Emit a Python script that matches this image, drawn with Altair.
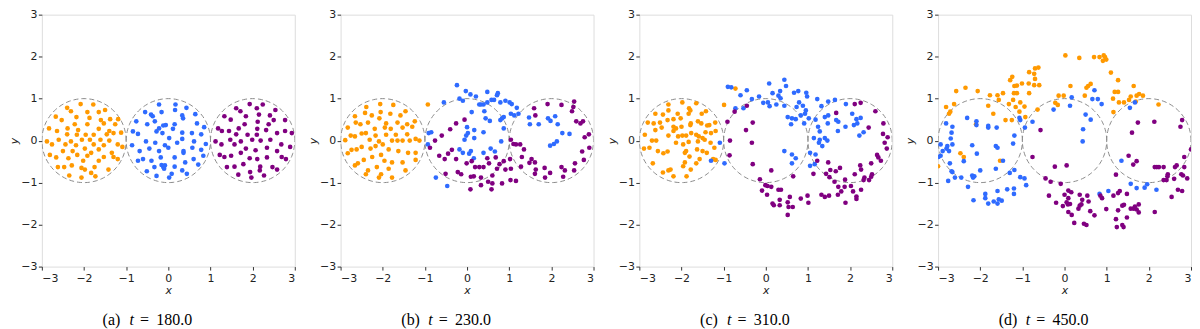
import altair as alt
import pandas as pd
import numpy as np

# ---------------- data ----------------
LABELS = ["(a)", "(b)", "(c)", "(d)"]
TIMES = ["180.0", "230.0", "310.0", "450.0"]
CENTERS = [-2, 0, 2]
RADIUS = 1
TICKS = [-3, -2, -1, 0, 1, 2, 3]
COLOR_NAMES = ["orange", "blue", "purple"]
COLOR_VALUES = ["#FF9900", "#2F6BFF", "#800080"]

A_ORANGE = [(-2.08,0.87),(-1.78,0.86),(-2.40,0.78),(-1.50,0.73),(-2.31,0.70),(-1.92,0.68),(-1.65,0.68),
 (-2.67,0.57),(-2.18,0.56),(-1.87,0.54),(-1.60,0.49),(-1.38,0.51),(-2.53,0.49),(-1.19,0.51),(-2.22,0.39),
 (-1.92,0.39),(-1.53,0.41),(-1.26,0.39),(-2.83,0.29),(-2.64,0.23),(-2.39,0.29),(-2.14,0.25),(-1.65,0.28),
 (-1.40,0.23),(-1.12,0.19),(-2.40,0.15),(-2.17,0.14),(-1.96,0.14),(-1.77,0.14),(-1.46,0.15),(-1.30,0.18),
 (-2.88,-0.02),(-2.60,0.02),(-2.05,0.02),(-1.86,0.02),(-1.61,0.02),(-1.40,0.00),(-2.31,-0.02),(-2.76,-0.09),
 (-2.44,-0.09),(-2.19,-0.11),(-1.77,-0.09),(-1.53,-0.11),(-1.20,-0.09),(-1.09,-0.15),(-1.98,-0.19),
 (-1.65,-0.21),(-2.50,-0.25),(-2.27,-0.25),(-1.83,-0.29),(-1.34,-0.29),(-2.81,-0.34),(-2.66,-0.40),
 (-2.16,-0.34),(-1.92,-0.36),(-1.53,-0.39),(-1.30,-0.39),(-1.20,-0.44),(-2.37,-0.42),(-2.02,-0.48),
 (-1.65,-0.48),(-2.47,-0.63),(-2.62,-0.63),(-2.29,-0.59),(-2.06,-0.65),(-1.75,-0.63),(-1.42,-0.69),
 (-1.98,-0.69),(-1.83,-0.77),(-2.35,-0.83),(-1.73,-0.85),(-2.06,-0.88)]
A_BLUE = [(-0.22,0.86),(0.17,0.86),(0.43,0.78),(-0.55,0.68),(-0.41,0.62),(-0.37,0.58),(-0.16,0.68),
 (0.16,0.73),(0.33,0.60),(0.35,0.53),(0.64,0.63),(-0.76,0.46),(-0.50,0.39),(-0.32,0.46),(-0.12,0.36),
 (-0.06,0.37),(0.15,0.39),(-0.22,0.29),(0.11,0.28),(0.68,0.41),(0.85,0.32),(-0.84,0.22),(-0.72,0.16),
 (-0.28,0.22),(-0.14,0.18),(0.33,0.19),(0.56,0.18),(0.78,0.15),(-0.53,-0.02),(-0.31,-0.05),(-0.86,-0.11),
 (-0.08,-0.11),(0.02,0.06),(0.21,-0.05),(0.33,0.04),(0.61,-0.02),(0.89,-0.08),(-0.68,-0.25),(-0.45,-0.19),
 (-0.22,-0.25),(0.00,-0.17),(0.36,-0.25),(0.57,-0.17),(0.78,-0.22),(-0.72,-0.48),(-0.60,-0.44),
 (-0.40,-0.48),(-0.18,-0.40),(0.15,-0.40),(0.36,-0.29),(0.40,-0.52),(0.60,-0.44),(0.71,-0.57),(0.83,-0.36),
 (-0.51,-0.73),(-0.33,-0.63),(-0.16,-0.58),(-0.12,-0.63),(-0.08,-0.59),(-0.10,-0.67),(0.15,-0.62),
 (0.33,-0.71),(0.44,-0.79),(-0.28,-0.84),(0.02,-0.88),(0.08,-0.79)]
A_PURPLE = [(1.93,0.87),(2.24,0.86),(1.61,0.77),(1.71,0.70),(2.10,0.77),(2.54,0.73),(1.33,0.58),(1.48,0.50),
 (1.84,0.58),(2.15,0.62),(2.41,0.60),(2.77,0.49),(2.50,0.49),(2.12,0.45),(1.81,0.39),(2.38,0.39),(1.18,0.29),
 (1.27,0.23),(1.44,0.23),(1.67,0.29),(2.11,0.28),(2.32,0.25),(2.77,0.23),(2.93,0.18),(1.61,0.15),(1.88,0.14),
 (2.10,0.14),(2.58,0.18),(1.12,-0.02),(1.26,-0.09),(1.47,0.02),(1.72,-0.02),(1.99,0.02),(2.19,0.00),
 (2.42,0.02),(2.68,-0.09),(2.89,-0.15),(1.57,-0.09),(1.84,-0.19),(2.07,-0.23),(2.34,-0.17),(2.58,-0.25),
 (1.22,-0.34),(1.33,-0.39),(1.49,-0.36),(1.72,-0.29),(2.11,-0.44),(2.34,-0.40),(2.69,-0.39),(2.79,-0.44),
 (1.93,-0.42),(1.39,-0.63),(1.57,-0.62),(1.78,-0.56),(2.18,-0.62),(2.47,-0.63),(2.58,-0.69),(1.66,-0.81),
 (1.94,-0.75),(2.27,-0.83),(1.97,-0.88),(2.17,-0.71)]

B_ORANGE = [(-2.06,0.87),(-1.75,0.85),(-2.39,0.80),(-1.46,0.70),(-2.26,0.60),(-2.05,0.68),(-1.82,0.64),
 (-1.58,0.60),(-2.66,0.58),(-2.42,0.66),(-2.64,0.43),(-2.53,0.39),(-2.35,0.43),(-2.08,0.53),(-1.92,0.41),
 (-1.65,0.43),(-1.42,0.39),(-1.24,0.46),(-2.83,0.31),(-2.19,0.28),(-1.95,0.31),(-1.81,0.28),(-1.53,0.31),
 (-1.30,0.33),(-2.76,0.12),(-2.66,0.10),(-2.50,0.17),(-2.40,0.18),(-2.17,0.12),(-1.92,0.14),(-1.69,0.14),
 (-1.42,0.15),(-2.89,0.01),(-2.31,0.02),(-2.09,-0.02),(-1.78,0.00),(-1.65,0.00),(-1.53,0.00),(-1.36,0.00),
 (-1.22,0.04),(-1.13,0.00),(-2.83,-0.30),(-2.74,-0.22),(-2.62,-0.21),(-2.50,-0.15),(-2.29,-0.19),
 (-2.17,-0.13),(-2.00,-0.09),(-1.86,-0.21),(-1.63,-0.25),(-1.40,-0.29),(-1.22,-0.29),(-2.66,-0.59),
 (-2.59,-0.54),(-2.45,-0.46),(-2.25,-0.39),(-2.04,-0.34),(-1.96,-0.48),(-1.78,-0.52),(-1.53,-0.52),
 (-1.22,-0.46),(-2.35,-0.71),(-2.14,-0.63),(-1.86,-0.67),(-1.46,-0.71),(-2.40,-0.80),(-2.04,-0.80),
 (-2.09,-0.88),(-1.78,-0.88),(-0.93,0.86)]
B_BLUE = [(-0.24,1.32),(-0.03,1.18),(0.08,1.10),(0.21,1.05),(-0.18,1.00),(-0.10,0.95),(0.48,1.16),(0.64,0.97),
 (0.58,0.97),(0.71,1.08),(0.73,1.13),(0.79,0.91),(0.91,0.95),(1.06,0.87),(1.01,0.91),(0.33,0.86),(0.39,0.86),
 (0.29,0.86),(0.48,0.91),(0.11,0.68),(0.41,0.70),(1.04,0.64),(1.12,0.60),(1.22,0.64),(1.18,0.78),(0.87,0.56),
 (0.79,0.49),(0.83,0.53),(0.44,0.53),(0.54,0.47),(-0.55,0.91),(0.00,0.32),(0.17,0.25),(0.39,0.20),(0.87,0.29),
 (-0.85,0.20),(-0.91,0.18),(-0.93,-0.09),(0.02,0.18),(-0.02,0.12),(-0.06,0.02),(0.17,0.06),(-0.18,-0.21),
 (-0.10,-0.29),(0.09,-0.25),(0.05,-0.31),(0.39,-0.29),(0.56,-0.19),(0.66,-0.26),(0.81,-0.02),(0.16,-0.42),
 (-0.74,-0.88),(-0.47,-1.08),(1.47,0.55),(1.49,0.39),(1.70,0.39),(1.92,0.53),(1.98,0.47),(2.09,0.58),
 (2.15,0.39),(2.26,0.18),(2.43,0.16),(2.13,-0.02),(2.06,-0.08),(1.97,-0.12)]
B_PURPLE = [(-0.26,0.41),(-0.06,0.50),(-0.40,0.27),(-0.60,0.12),(-0.76,0.00),(-0.88,-0.17),(-0.66,-0.36),
 (-0.53,-0.44),(-0.45,-0.31),(-0.36,-0.22),(-0.26,-0.44),(-0.51,-0.79),(-0.22,-0.75),(-0.14,-0.80),
 (-0.01,-0.54),(0.11,-0.49),(0.09,-0.86),(0.16,-0.85),(0.08,-1.16),(0.19,-0.63),(0.29,-0.63),(0.33,-0.88),
 (0.33,-1.06),(0.39,-0.63),(0.48,-0.42),(0.52,-0.54),(0.50,-0.98),(0.60,-0.83),(0.60,-1.02),(0.58,-1.16),
 (0.68,-0.40),(0.71,-0.67),(0.77,-0.56),(0.83,-1.02),(0.87,-0.49),(0.91,-0.69),(1.02,-0.44),(1.04,-0.67),
 (1.03,-0.94),(1.04,0.02),(1.10,-0.08),(1.16,-0.09),(1.26,-0.09),(1.16,-0.96),(1.30,-0.39),(1.28,-0.62),
 (1.35,-0.21),(1.48,-0.53),(1.53,-0.44),(1.61,-0.52),(1.63,-0.69),(1.61,-0.79),(1.59,0.77),(1.62,0.60),
 (1.91,0.87),(2.24,0.85),(2.54,0.93),(2.52,0.80),(2.59,0.46),(2.69,0.41),(2.75,0.46),(2.89,0.15),(2.79,0.08),
 (2.90,-0.17),(2.73,-0.26),(2.77,-0.46),(2.56,-0.54),(2.54,-0.71),(2.24,-0.63),(2.32,-0.71),(2.28,-0.86),
 (1.84,-0.65),(1.85,-0.88),(1.97,-0.77),(2.49,0.70)]

C_ORANGE = [(-2.31,0.86),(-1.98,0.91),(-1.82,0.77),(-1.79,0.72),(-1.65,0.89),(-2.62,0.64),(-2.44,0.62),
 (-2.31,0.72),(-2.09,0.64),(-1.83,0.64),(-1.52,0.64),(-1.42,0.70),(-2.80,0.43),(-2.66,0.41),(-2.51,0.43),
 (-2.33,0.49),(-2.19,0.51),(-2.02,0.53),(-1.78,0.41),(-1.79,0.37),(-1.61,0.46),(-1.53,0.41),(-1.39,0.36),
 (-1.20,0.43),(-2.62,0.25),(-2.47,0.31),(-2.19,0.33),(-2.13,0.29),(-2.19,0.23),(-2.00,0.33),(-1.77,0.18),
 (-1.65,0.14),(-1.43,0.20),(-1.34,0.37),(-2.87,0.14),(-2.89,-0.19),(-2.76,-0.17),(-2.70,0.00),(-2.60,0.00),
 (-2.31,0.12),(-2.08,0.10),(-1.98,0.12),(-1.89,0.12),(-1.59,0.10),(-1.50,0.06),(-1.30,0.18),(-1.19,0.23),
 (-2.13,-0.05),(-1.96,-0.09),(-1.83,-0.03),(-1.61,-0.02),(-1.45,0.02),(-1.31,-0.05),(-2.56,-0.25),
 (-2.43,-0.30),(-2.33,-0.26),(-1.89,-0.25),(-1.92,-0.29),(-1.63,-0.21),(-1.50,-0.25),(-1.40,-0.29),
 (-1.22,-0.17),(-1.25,-0.44),(-1.19,-0.46),(-1.81,-0.38),(-1.57,-0.44),(-2.68,-0.54),(-1.92,-0.52),
 (-1.96,-0.61),(-1.65,-0.54),(-2.26,-0.69),(-2.31,-0.71),(-2.44,-0.76),(-2.19,-0.85),(-1.88,-0.85),
 (-1.78,-0.69),(-0.99,0.85),(-0.72,1.24)]
C_BLUE = [(-0.90,1.28),(-0.82,1.27),(-0.60,1.08),(-0.45,1.20),(-0.33,0.99),(-0.16,1.05),(-0.06,0.90),
 (0.05,0.91),(0.09,0.82),(0.08,1.36),(0.16,1.13),(0.25,0.86),(0.30,1.07),(0.35,1.01),(0.34,1.18),(0.44,1.45),
 (0.48,1.30),(0.44,0.83),(0.67,1.14),(0.77,1.18),(0.79,0.91),(0.73,0.80),(0.96,1.14),(0.98,1.05),(0.88,0.83),
 (0.95,0.72),(0.93,0.64),(0.83,0.60),(0.71,0.51),(0.62,0.53),(0.52,0.56),(0.60,0.39),(0.91,0.41),(-0.72,0.77),
 (-0.53,0.77),(-1.09,-0.05),(-1.30,-0.48),(-0.98,-0.54),(0.44,-0.25),(0.62,-0.33),(0.71,-0.42),(0.62,-0.54),
 (1.05,-0.29),(1.05,-0.60),(1.16,-0.56),(1.18,-0.33),(1.14,0.06),(1.18,0.50),(1.24,0.33),(1.22,0.99),
 (1.32,0.82),(1.28,0.22),(1.28,0.02),(1.34,-0.13),(1.40,0.06),(1.46,0.00),(1.26,-0.05),(1.40,0.56),
 (1.48,0.60),(1.47,0.41),(1.48,0.93),(1.64,0.97),(1.67,0.49),(1.72,0.45),(1.71,0.23),(1.90,0.87),(1.89,0.33),
 (2.05,0.64),(2.15,0.51),(2.17,0.41),(2.25,0.54),(2.09,0.37),(2.22,0.12),(2.32,0.20),(1.02,0.53)]
C_PURPLE = [(-0.91,0.45),(-0.74,0.69),(-0.45,0.83),(-0.31,0.43),(-0.47,0.25),(-0.85,0.00),(-0.33,-0.05),
 (-0.86,-0.35),(-0.31,-0.56),(-0.14,-0.92),(-0.09,-1.19),(-0.01,-1.06),(0.04,-1.08),(0.13,-1.10),
 (0.13,-0.71),(0.03,-1.29),(0.16,-1.50),(0.19,-1.54),(0.33,-1.41),(0.33,-1.54),(0.30,-1.17),(0.36,-1.17),
 (0.52,-1.77),(0.52,-1.47),(0.57,-1.34),(0.54,-1.58),(0.64,-1.58),(0.65,-0.85),(0.83,-1.38),(0.99,-1.31),
 (1.01,-1.48),(1.13,-0.79),(1.22,-0.48),(1.32,-1.29),(1.40,-1.34),(1.43,-0.79),(1.48,-0.52),(1.51,-0.87),
 (1.53,-0.70),(1.50,-1.31),(1.63,-0.98),(1.66,-0.73),(1.67,0.66),(1.71,-1.29),(1.72,-1.10),(1.76,-0.65),
 (1.79,-1.21),(1.87,-1.10),(1.88,-0.93),(1.89,-1.48),(2.02,-1.08),(2.07,-1.21),(2.11,-0.80),(2.15,-1.33),
 (2.15,-1.39),(2.11,0.87),(2.25,0.90),(2.26,-0.69),(2.24,-0.59),(2.26,-1.17),(2.32,-0.94),(2.34,-0.88),
 (2.45,-0.94),(2.50,-0.86),(2.52,-0.80),(2.50,-0.54),(2.44,0.31),(2.60,0.70),(2.64,-0.34),(2.67,-0.40),
 (2.73,-0.48),(2.79,0.41),(2.82,-0.05),(2.89,0.08),(2.87,-0.19),(2.78,0.16)]

D_ORANGE = [(0.02,2.03),(0.35,1.97),(0.70,1.99),(0.83,1.99),(0.93,2.03),(0.96,1.99),(0.99,1.93),(0.91,1.90),
 (1.10,1.62),(1.27,1.44),(1.19,1.16),(1.27,1.16),(1.15,1.00),(1.29,0.91),(1.41,0.91),(1.16,0.68),(1.64,1.30),
 (1.57,1.05),(1.71,1.07),(1.77,1.11),(1.86,1.07),(1.69,0.93),(1.53,0.97),(2.23,0.86),(0.52,1.26),(0.56,1.30),
 (0.62,1.35),(0.48,1.07),(0.14,1.30),(-0.14,1.07),(-0.02,1.07),(-0.22,0.90),(-0.16,0.85),(-0.64,0.74),
 (-0.84,1.63),(-0.70,1.72),(-0.62,1.74),(-0.72,1.59),(-0.70,1.47),(-0.72,1.32),(-0.60,1.32),(-0.84,1.13),
 (-0.85,1.36),(-1.01,1.36),(-1.13,1.31),(-1.24,1.52),(-1.29,1.44),(-1.19,1.30),(-1.20,1.13),(-1.13,1.13),
 (-1.22,0.97),(-1.16,0.80),(-1.07,0.69),(-1.05,0.91),(-0.95,0.81),(-0.93,0.56),(-1.32,0.87),(-1.25,0.49),
 (-1.40,0.49),(-1.46,1.13),(-1.59,1.08),(-1.56,0.97),(-1.77,1.08),(-1.81,0.83),(-1.69,0.64),(-2.06,1.18),
 (-2.35,1.26),(-2.57,1.18),(-2.62,0.87),(-2.71,0.69),(-2.74,0.64),(-2.81,0.80),(-2.10,0.39),(-2.47,-0.30),
 (-2.39,-0.39),(-1.53,-0.48),(-3.00,-0.61)]
D_BLUE = [(0.71,1.20),(0.17,1.03),(0.13,0.83),(-0.26,0.74),(0.66,0.99),(0.79,0.99),(0.88,0.87),(0.50,0.62),
 (0.62,0.50),(0.44,0.27),(0.43,-0.02),(1.55,0.78),(1.67,0.91),(1.35,-0.48),(1.04,-1.20),(0.83,-1.27),
 (1.71,-1.13),(1.57,-1.03),(1.90,-1.12),(1.96,-1.04),(2.18,-1.17),(-2.81,0.41),(-2.94,-0.09),(-2.99,-0.39),
 (-2.94,-0.36),(-2.89,-0.25),(-2.80,-0.19),(-2.74,-0.25),(-2.78,-0.13),(-2.70,0.05),(-2.68,0.19),(-2.66,0.33),
 (-2.66,-0.09),(-2.72,-0.54),(-2.66,-0.75),(-2.68,-0.73),(-2.76,-0.96),(-2.60,-0.88),(-2.45,-0.88),
 (-2.39,-0.49),(-2.31,0.54),(-2.09,0.46),(-2.09,0.37),(-2.19,-0.11),(-2.08,-0.31),(-2.00,-0.71),(-2.19,-0.83),
 (-2.17,-0.88),(-2.14,-0.85),(-2.29,-1.10),(-2.16,-1.42),(-1.88,-1.27),(-1.88,-1.37),(-1.81,-1.50),
 (-1.81,0.31),(-1.81,0.35),(-1.61,0.31),(-1.63,-0.13),(-1.59,-0.17),(-1.63,-0.67),(-1.68,-1.45),(-1.59,-1.50),
 (-1.56,-1.40),(-1.49,-1.43),(-1.59,-1.20),(-1.46,-0.48),(-1.36,-1.16),(-1.30,-0.77),(-1.22,-0.07),
 (-1.19,0.12),(-1.19,-0.70),(-1.20,-1.14),(-1.20,-1.27),(-1.05,0.49),(-1.05,-0.87),(-0.95,-0.90),
 (-0.91,-1.06),(-0.94,0.31),(-0.76,0.45),(-1.07,0.54)]
D_PURPLE = [(-0.57,0.25),(-0.76,-0.39),(-0.45,-0.90),(-0.33,-0.98),(-0.23,-0.62),(0.05,-0.59),(-0.09,-1.03),
 (-0.37,-1.31),(-0.20,-1.48),(-0.04,-1.56),(0.00,-1.29),(0.09,-1.19),(0.16,-1.23),(0.09,-1.37),(0.05,-1.47),
 (0.08,-1.52),(0.13,-1.51),(0.09,-1.70),(0.17,-1.77),(0.23,-1.96),(0.33,-1.62),(0.36,-1.55),(0.36,-1.29),
 (0.42,-1.41),(0.40,-1.52),(0.46,-1.98),(0.52,-2.01),(0.54,-1.31),(0.57,-1.45),(0.61,-1.68),(0.71,-1.78),
 (0.85,-1.31),(0.89,-1.37),(0.99,-1.63),(1.16,-1.31),(1.22,-1.87),(1.24,-2.06),(1.27,-1.25),(1.27,-1.66),
 (1.31,-1.20),(1.22,-0.81),(1.37,-1.55),(1.41,-1.53),(1.37,-2.01),(1.40,-2.06),(1.48,-1.27),(1.48,-1.83),
 (1.57,-1.62),(1.64,-1.62),(1.67,-1.57),(1.76,-1.52),(1.76,-1.71),(1.71,-1.64),(1.52,-0.36),(1.63,-0.57),
 (1.71,-0.49),(1.60,0.19),(1.74,0.43),(2.14,-1.70),(2.14,-0.63),(2.19,-0.63),(2.24,-0.63),(2.13,0.45),
 (2.35,-0.63),(2.45,-0.80),(2.44,-0.85),(2.35,-0.94),(2.42,-0.94),(2.54,-1.34),(2.60,-0.91),(2.62,-0.63),
 (2.66,-0.59),(2.69,-1.17),(2.77,-0.80),(2.81,-0.83),(2.79,-1.20),(2.84,-0.39),(2.84,-0.63),(2.91,-0.90),
 (2.79,0.49),(2.75,0.33),(3.00,-0.21)]

PANEL_POINTS = [
    (A_ORANGE, A_BLUE, A_PURPLE),
    (B_ORANGE, B_BLUE, B_PURPLE),
    (C_ORANGE, C_BLUE, C_PURPLE),
    (D_ORANGE, D_BLUE, D_PURPLE),
]

# ---------------- geometry of the dashed reference circles ----------------
angles = np.linspace(0, 2 * np.pi, 145)
circle_df = pd.DataFrame(
    [{"cx": c, "i": i, "x": c + RADIUS * np.cos(a), "y": RADIUS * np.sin(a)}
     for c in CENTERS for i, a in enumerate(angles)]
)

W, H = 254, 253
CAP_Y = 312
SERIF = "Liberation Serif"

xscale = alt.Scale(domain=[-3, 3], nice=False, zero=False)
yscale = alt.Scale(domain=[-3, 3], nice=False, zero=False)

common_axis = dict(
    values=TICKS, grid=False, domain=False,
    labelFont="DejaVu Sans", labelFontSize=11, labelColor="#222222",
    tickColor="#333333", tickSize=3.5,
    titleFont="DejaVu Sans", titleFontSize=11, titleFontStyle="italic",
    titleFontWeight="normal", titleColor="#222222",
)
xaxis = alt.Axis(title="x", titlePadding=2, labelPadding=2, **common_axis)
yaxis = alt.Axis(title="y", titlePadding=1, labelPadding=1.5, **common_axis)


def make_panel(k):
    orange, blue, purple = PANEL_POINTS[k]
    rows = []
    for name, pts in zip(COLOR_NAMES, (orange, blue, purple)):
        for (px, py) in pts:
            rows.append({"x": px, "y": py, "c": name})
    pts_df = pd.DataFrame(rows)

    circles = alt.Chart(circle_df).mark_line(
        color="#8a8a8a", strokeWidth=1, strokeDash=[5, 3], clip=True
    ).encode(
        x=alt.X("x:Q", scale=xscale, axis=xaxis),
        y=alt.Y("y:Q", scale=yscale, axis=yaxis),
        detail="cx:N",
        order="i:Q",
    )
    points = alt.Chart(pts_df).mark_circle(size=22, opacity=1, clip=True).encode(
        x=alt.X("x:Q", scale=xscale),
        y=alt.Y("y:Q", scale=yscale),
        color=alt.Color("c:N", scale=alt.Scale(domain=COLOR_NAMES, range=COLOR_VALUES), legend=None),
    )
    cap_df = pd.DataFrame({"label": [LABELS[k]], "t": ["t"], "eq": ["="], "val": [TIMES[k]]})
    cap = alt.Chart(cap_df)
    style = dict(font=SERIF, fontSize=16, align="left", baseline="alphabetic", color="black")
    t1 = cap.mark_text(**style).encode(x=alt.value(61), y=alt.value(CAP_Y), text="label:N")
    t2 = cap.mark_text(fontStyle="italic", **style).encode(x=alt.value(88), y=alt.value(CAP_Y), text="t:N")
    t3 = cap.mark_text(**style).encode(x=alt.value(98.5), y=alt.value(CAP_Y), text="eq:N")
    t4 = cap.mark_text(**style).encode(x=alt.value(115), y=alt.value(CAP_Y), text="val:N")
    return alt.layer(circles, points, t1, t2, t3, t4).properties(width=W, height=H)


chart = alt.hconcat(*[make_panel(k) for k in range(4)], spacing=300 - W, bounds="flush").properties(
    padding={"left": 0, "top": -1, "right": 0, "bottom": 0}
).configure_view(stroke="#333333", strokeWidth=1).configure(background="white")

chart.save("out.html", embed_options={"renderer": "svg", "actions": False})
